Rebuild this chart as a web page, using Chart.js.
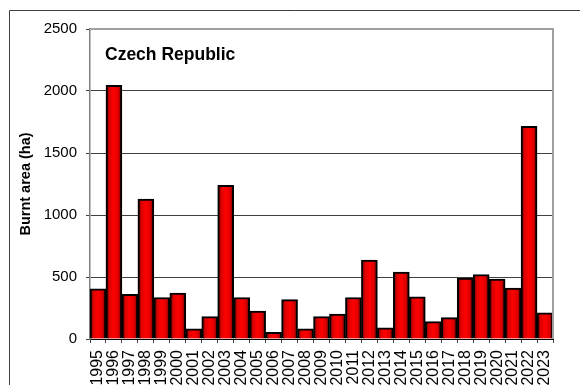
<!DOCTYPE html>
<html>
<head>
<meta charset="utf-8">
<script src="https://cdn.jsdelivr.net/npm/chart.js@4"></script>
<style>
  html, body { margin: 0; padding: 0; background: #fff; }
  #wrap { width: 580px; height: 385px; }
</style>
</head>
<body>
<div id="wrap"><canvas id="fireChart" width="580" height="385"></canvas></div>
<script>
const years = ['1995', '1996', '1997', '1998', '1999', '2000', '2001', '2002', '2003', '2004',
  '2005', '2006', '2007', '2008', '2009', '2010', '2011', '2012', '2013', '2014',
  '2015', '2016', '2017', '2018', '2019', '2020', '2021', '2022', '2023'];
const burntArea = [405, 2045, 360, 1129, 335, 371, 83, 180, 1239, 335,
  226, 53, 317, 83, 180, 201, 335, 637, 91, 540,
  341, 140, 172, 492, 519, 484, 411, 1715, 212];
const yTicks = [0, 500, 1000, 1500, 2000, 2500];
const chartTitle = 'Czech Republic';
const yTitle = 'Burnt area (ha)';

const FONT = 'Arial, "Liberation Sans", sans-serif';

// red bars shaded darker towards both edges
function barFill(ctx) {
  const chart = ctx.chart;
  const xs = chart.scales.x;
  if (!chart.chartArea || !xs || ctx.type !== 'data') return '#e00000';
  const w = xs.width / years.length;
  const cx = xs.getPixelForValue(ctx.dataIndex);
  const g = chart.ctx.createLinearGradient(cx - w / 2, 0, cx + w / 2, 0);
  g.addColorStop(0, '#500000');
  g.addColorStop(0.22, '#dd0000');
  g.addColorStop(0.5, '#ff0000');
  g.addColorStop(0.78, '#dd0000');
  g.addColorStop(1, '#500000');
  return g;
}

// outer frame, plot border and the title inside the plot
const decorations = {
  id: 'decorations',
  beforeDraw(chart) {
    const c = chart.ctx;
    c.save();
    c.fillStyle = '#fff';
    c.fillRect(0, 0, chart.width, chart.height);
    c.strokeStyle = '#404040';
    c.lineWidth = 1;
    c.beginPath();
    c.moveTo(9.5, chart.height);
    c.lineTo(9.5, 10.5);
    c.lineTo(chart.width, 10.5);
    c.stroke();
    c.restore();
  },
  afterDraw(chart) {
    const c = chart.ctx;
    const a = chart.chartArea;
    c.save();
    c.strokeStyle = '#a0a0a0';
    c.lineWidth = 2;
    c.beginPath();
    c.moveTo(a.left, a.top);
    c.lineTo(a.right, a.top);
    c.lineTo(a.right, a.bottom);
    c.stroke();
    c.fillStyle = '#000';
    c.font = 'bold 17.5px ' + FONT;
    c.textBaseline = 'alphabetic';
    c.fillText(chartTitle, a.left + 15, a.top + 30.5);
    c.restore();
  }
};

const ctx = document.getElementById('fireChart').getContext('2d');

new Chart(ctx, {
  type: 'bar',
  data: {
    labels: years,
    datasets: [{
      data: burntArea,
      backgroundColor: barFill,
      borderColor: '#000',
      borderWidth: 2,
      categoryPercentage: 1.0,
      barPercentage: 1.0
    }]
  },
  options: {
    responsive: false,
    animation: false,
    layout: { padding: { left: 0, top: 29, right: 27, bottom: 0 } },
    plugins: {
      legend: { display: false },
      tooltip: { enabled: false }
    },
    scales: {
      x: {
        grid: { display: true, drawOnChartArea: false, offset: true, tickLength: 4, color: '#404040' },
        border: { color: '#000', width: 1 },
        ticks: {
          color: '#000',
          font: { family: FONT, size: 16 },
          minRotation: 90,
          maxRotation: 90,
          padding: 7,
          autoSkip: false
        },
        afterFit(scale) { scale.height = 46; }
      },
      y: {
        min: 0,
        max: 2500,
        afterBuildTicks(scale) { scale.ticks = yTicks.map(v => ({ value: v })); },
        grid: { color: '#404040', lineWidth: 1, tickLength: 4 },
        border: { color: '#808080', width: 1.5 },
        ticks: {
          color: '#000',
          font: { family: FONT, size: 15 },
          padding: 9,
          callback: v => String(v)
        },
        title: {
          display: true,
          text: yTitle,
          color: '#000',
          font: { family: FONT, size: 14.5, weight: 'bold' },
          padding: { top: 17, bottom: 0 }
        },
        afterFit(scale) { scale.width = 90; }
      }
    }
  },
  plugins: [decorations]
});
</script>
</body>
</html>
